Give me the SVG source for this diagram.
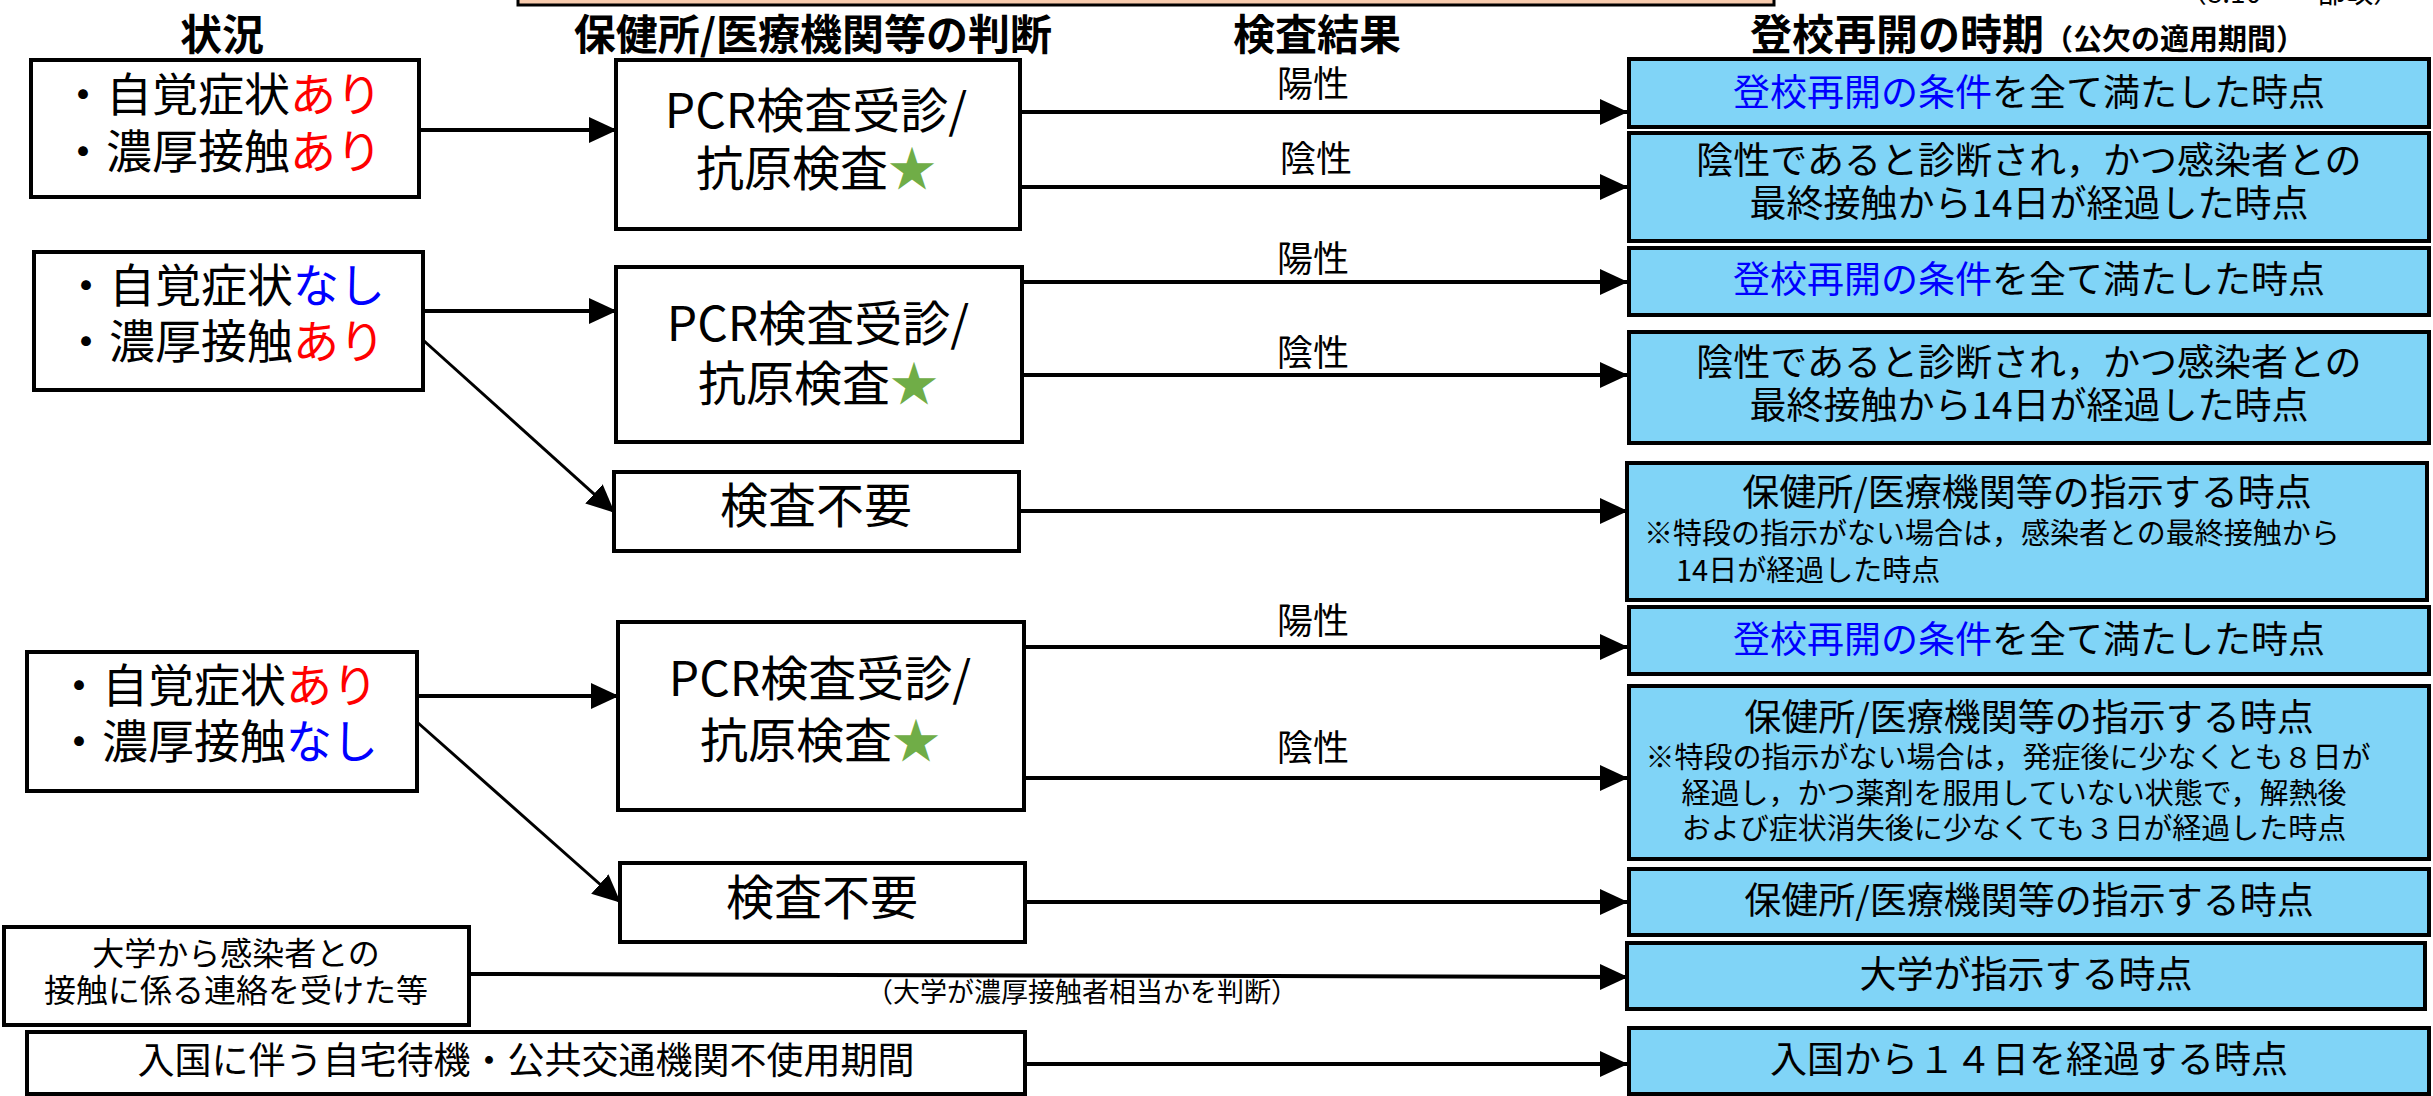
<svg xmlns="http://www.w3.org/2000/svg" width="2433" height="1096" viewBox="0 0 2433 1096">
<style>
text{font-family:"Noto Sans CJK JP","Noto Sans",sans-serif;fill:#000}
.h{font-weight:bold;font-size:42px;text-anchor:middle}
.box{fill:#fff;stroke:#000;stroke-width:4}
.rbox{fill:#80D4F7;stroke:#000;stroke-width:4}
.l{font-size:46px}
.p{font-size:48px;text-anchor:middle}
.r{font-size:37px;text-anchor:middle}
.n{font-size:29px}
.lab{font-size:36px;text-anchor:middle}
.red{fill:#FF0000}
.blue{fill:#0000FF}
.star{fill:#70AD47}
.c{stroke:#000;stroke-width:4;fill:none;marker-end:url(#ah)}
.cd{stroke:#000;stroke-width:3;fill:none;marker-end:url(#ah)}
</style>
<defs>
<marker id="ah" markerUnits="userSpaceOnUse" markerWidth="28" markerHeight="28" viewBox="0 0 28 26" refX="27" refY="13" orient="auto">
<path d="M0,0 L28,13 L0,26 z" fill="#000"/>
</marker>
</defs>
<rect width="2433" height="1096" fill="#fff"/>
<g id="top-banner">
<rect x="518" y="-40" width="1256" height="45" fill="#F8CBAD" stroke="#000" stroke-width="3"/>
<text x="2290" y="3" font-size="28" text-anchor="middle">（8.10　一部改）</text>
</g>
<g id="headers">
<text class="h" x="222" y="50">状況</text>
<text class="h" x="813" y="50">保健所/医療機関等の判断</text>
<text class="h" x="1317" y="50">検査結果</text>
<text x="1750" y="50" font-weight="bold" font-size="42">登校再開の時期<tspan font-size="29">（公欠の適用期間）</tspan></text>
</g>
<g id="connectors">
<line class="c" x1="419" y1="130" x2="616" y2="130"/>
<line class="c" x1="1020" y1="112" x2="1627" y2="112"/>
<line class="c" x1="1020" y1="187" x2="1627" y2="187"/>
<line class="c" x1="423" y1="311" x2="616" y2="311"/>
<line class="cd" x1="423" y1="340" x2="614" y2="512"/>
<line class="c" x1="1022" y1="282" x2="1627" y2="282"/>
<line class="c" x1="1022" y1="375" x2="1627" y2="375"/>
<line class="c" x1="1019" y1="511" x2="1627" y2="511"/>
<line class="c" x1="417" y1="696" x2="618" y2="696"/>
<line class="cd" x1="417" y1="722" x2="620" y2="902"/>
<line class="c" x1="1024" y1="647" x2="1627" y2="647"/>
<line class="c" x1="1024" y1="778" x2="1627" y2="778"/>
<line class="c" x1="1025" y1="902" x2="1627" y2="902"/>
<line class="c" x1="469" y1="974" x2="1627" y2="977"/>
<line class="c" x1="1025" y1="1064" x2="1627" y2="1064"/>
<text class="lab" x="1313" y="97">陽性</text>
<text class="lab" x="1316" y="172">陰性</text>
<text class="lab" x="1313" y="272">陽性</text>
<text class="lab" x="1313" y="366">陰性</text>
<text class="lab" x="1313" y="634">陽性</text>
<text class="lab" x="1313" y="761">陰性</text>
<text x="1082" y="1002" font-size="27" text-anchor="middle">（大学が濃厚接触者相当かを判断）</text>
</g>
<g id="sit-A">
<rect class="box" x="31" y="60" width="388" height="137"/>
<text class="l" x="60" y="111">・自覚症状<tspan class="red">あり</tspan></text>
<text class="l" x="60" y="168">・濃厚接触<tspan class="red">あり</tspan></text>
</g>
<g id="sit-B">
<rect class="box" x="34" y="252" width="389" height="138"/>
<text class="l" x="63" y="302">・自覚症状<tspan class="blue">なし</tspan></text>
<text class="l" x="63" y="358">・濃厚接触<tspan class="red">あり</tspan></text>
</g>
<g id="sit-C">
<rect class="box" x="27" y="652" width="390" height="139"/>
<text class="l" x="56" y="702">・自覚症状<tspan class="red">あり</tspan></text>
<text class="l" x="56" y="758">・濃厚接触<tspan class="blue">なし</tspan></text>
</g>
<g id="sit-D">
<rect class="box" x="4" y="927" width="465" height="98"/>
<text x="236" y="965" font-size="32" text-anchor="middle">大学から感染者との</text>
<text x="236" y="1002" font-size="32" text-anchor="middle">接触に係る連絡を受けた等</text>
</g>
<g id="sit-E">
<rect class="box" x="27" y="1032" width="998" height="62"/>
<text x="526" y="1074" font-size="37" text-anchor="middle">入国に伴う自宅待機・公共交通機関不使用期間</text>
</g>
<g id="pcr-1">
<rect class="box" x="616" y="60" width="404" height="169"/>
<text class="p" x="816" y="128">PCR検査受診/</text>
<text class="p" x="816" y="186">抗原検査<tspan class="star">★</tspan></text>
</g>
<g id="pcr-2">
<rect class="box" x="616" y="267" width="406" height="175"/>
<text class="p" x="818" y="341">PCR検査受診/</text>
<text class="p" x="818" y="401">抗原検査<tspan class="star">★</tspan></text>
</g>
<g id="nocheck-1">
<rect class="box" x="614" y="472" width="405" height="79"/>
<text class="p" x="816" y="523">検査不要</text>
</g>
<g id="pcr-3">
<rect class="box" x="618" y="622" width="406" height="188"/>
<text class="p" x="820" y="696">PCR検査受診/</text>
<text class="p" x="820" y="758">抗原検査<tspan class="star">★</tspan></text>
</g>
<g id="nocheck-2">
<rect class="box" x="620" y="863" width="405" height="79"/>
<text class="p" x="822" y="915">検査不要</text>
</g>
<g id="res-1">
<rect class="rbox" x="1629" y="59" width="800" height="68"/>
<text class="r" x="2029" y="106"><tspan class="blue">登校再開の条件</tspan>を全て満たした時点</text>
</g>
<g id="res-2">
<rect class="rbox" x="1629" y="133" width="800" height="108"/>
<text class="r" x="2029" y="174">陰性であると診断され，かつ感染者との</text>
<text class="r" x="2029" y="217">最終接触から14日が経過した時点</text>
</g>
<g id="res-3">
<rect class="rbox" x="1629" y="248" width="800" height="67"/>
<text class="r" x="2029" y="293"><tspan class="blue">登校再開の条件</tspan>を全て満たした時点</text>
</g>
<g id="res-4">
<rect class="rbox" x="1629" y="332" width="800" height="111"/>
<text class="r" x="2029" y="376">陰性であると診断され，かつ感染者との</text>
<text class="r" x="2029" y="419">最終接触から14日が経過した時点</text>
</g>
<g id="res-5">
<rect class="rbox" x="1627" y="463" width="800" height="137"/>
<text class="r" x="2027" y="506">保健所/医療機関等の指示する時点</text>
<text class="n" x="1644" y="544">※特段の指示がない場合は，感染者との最終接触から</text>
<text class="n" x="1676" y="581">14日が経過した時点</text>
</g>
<g id="res-6">
<rect class="rbox" x="1629" y="607" width="800" height="67"/>
<text class="r" x="2029" y="653"><tspan class="blue">登校再開の条件</tspan>を全て満たした時点</text>
</g>
<g id="res-7">
<rect class="rbox" x="1629" y="686" width="800" height="173"/>
<text class="r" x="2029" y="731">保健所/医療機関等の指示する時点</text>
<text class="n" x="2008" y="768" text-anchor="middle">※特段の指示がない場合は，発症後に少なくとも８日が</text>
<text class="n" x="2014" y="804" text-anchor="middle">経過し，かつ薬剤を服用していない状態で，解熱後</text>
<text class="n" x="2014" y="839" text-anchor="middle">および症状消失後に少なくても３日が経過した時点</text>
</g>
<g id="res-8">
<rect class="rbox" x="1629" y="869" width="800" height="66"/>
<text class="r" x="2029" y="914">保健所/医療機関等の指示する時点</text>
</g>
<g id="res-9">
<rect class="rbox" x="1627" y="943" width="798" height="66"/>
<text class="r" x="2026" y="988">大学が指示する時点</text>
</g>
<g id="res-10">
<rect class="rbox" x="1629" y="1028" width="800" height="66"/>
<text class="r" x="2029" y="1073">入国から１４日を経過する時点</text>
</g>
</svg>
